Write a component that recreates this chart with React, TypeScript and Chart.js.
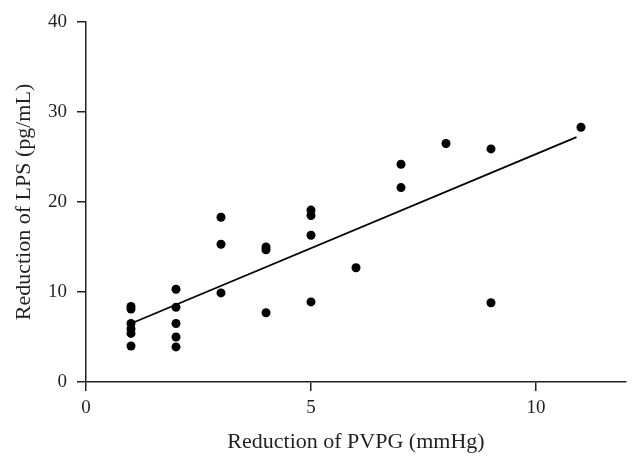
import React, { useEffect, useRef } from "react";
import { Chart, registerables } from "chart.js";

Chart.register(...registerables);

// Reduction of PVPG (mmHg) for each patient
const pvpgReduction = [
  1, 1, 1, 1, 1, 1,
  2, 2, 2, 2, 2,
  3, 3, 3,
  4, 4, 4,
  5, 5, 5, 5,
  6,
  7, 7,
  8,
  9, 9,
  11,
];
// Reduction of LPS (pg/mL) for each patient
const lpsReduction = [
  8.4, 8.1, 6.5, 5.9, 5.4, 4.0,
  10.3, 8.3, 6.5, 5.0, 3.9,
  18.3, 15.3, 9.9,
  15.0, 14.7, 7.7,
  19.1, 18.5, 16.3, 8.9,
  12.7,
  24.2, 21.6,
  26.5,
  25.9, 8.8,
  28.3,
];
// Fitted regression line end points
const fitX = [1, 10.9];
const fitY = [6.5, 27.2];

const xTickValues = [0, 5, 10];
const yTickValues = [0, 10, 20, 30, 40];

const FONT = "'Liberation Serif', 'Times New Roman', serif";
const TEXT = "#231f20";

export default function App() {
  const ref = useRef<HTMLCanvasElement | null>(null);

  useEffect(() => {
    if (!ref.current) return;
    const points = pvpgReduction.map((x, i) => ({ x, y: lpsReduction[i] }));
    const fit = fitX.map((x, i) => ({ x, y: fitY[i] }));
    const chart = new Chart(ref.current, {
      type: "scatter",
      data: {
        datasets: [
          {
            label: "Patients",
            data: points,
            pointRadius: 4.5,
            pointHoverRadius: 4.5,
            pointBackgroundColor: "#000",
            pointBorderColor: "#000",
            pointBorderWidth: 0,
            showLine: false,
          },
          {
            label: "Fit",
            data: fit,
            showLine: true,
            pointRadius: 0,
            borderColor: "#000",
            borderWidth: 1.8,
            fill: false,
          },
        ],
      },
      options: {
        responsive: false,
        animation: false,
        devicePixelRatio: 1,
        layout: { padding: { left: 0, right: 14, top: 22, bottom: 0 } },
        plugins: {
          legend: { display: false },
          tooltip: { enabled: false },
        },
        scales: {
          x: {
            type: "linear",
            min: 0,
            max: 12,
            afterFit: (scale: any) => {
              scale.height = 83;
            },
            afterBuildTicks: (scale: any) => {
              scale.ticks = xTickValues.map((v) => ({ value: v }));
            },
            ticks: {
              font: { family: FONT, size: 19 },
              color: TEXT,
              padding: 6,
              includeBounds: false,
            },
            grid: {
              display: true,
              drawOnChartArea: false,
              drawTicks: true,
              tickLength: 9,
              color: "#222",
              lineWidth: 1.5,
            },
            border: { display: true, color: "#222", width: 1.5 },
            title: {
              display: true,
              text: "Reduction of PVPG (mmHg)",
              font: { family: FONT, size: 22 },
              color: TEXT,
              padding: { top: 0, bottom: 10 },
            },
          },
          y: {
            type: "linear",
            min: 0,
            max: 40,
            afterFit: (scale: any) => {
              scale.width = 86;
            },
            afterBuildTicks: (scale: any) => {
              scale.ticks = yTickValues.map((v) => ({ value: v }));
            },
            ticks: {
              font: { family: FONT, size: 19 },
              color: TEXT,
              padding: 10,
            },
            grid: {
              display: true,
              drawOnChartArea: false,
              drawTicks: true,
              tickLength: 9,
              color: "#222",
              lineWidth: 1.5,
            },
            border: { display: true, color: "#222", width: 1.5 },
            title: {
              display: true,
              text: "Reduction of LPS (pg/mL)",
              font: { family: FONT, size: 22 },
              color: TEXT,
              padding: { top: 11, bottom: 0 },
            },
          },
        },
      },
    });
    return () => chart.destroy();
  }, []);

  return (
    <div
      style={{
        position: "absolute",
        left: 0,
        top: 0,
        width: 640,
        height: 465,
        background: "#fff",
      }}
    >
      <canvas ref={ref} width={640} height={465} />
    </div>
  );
}
